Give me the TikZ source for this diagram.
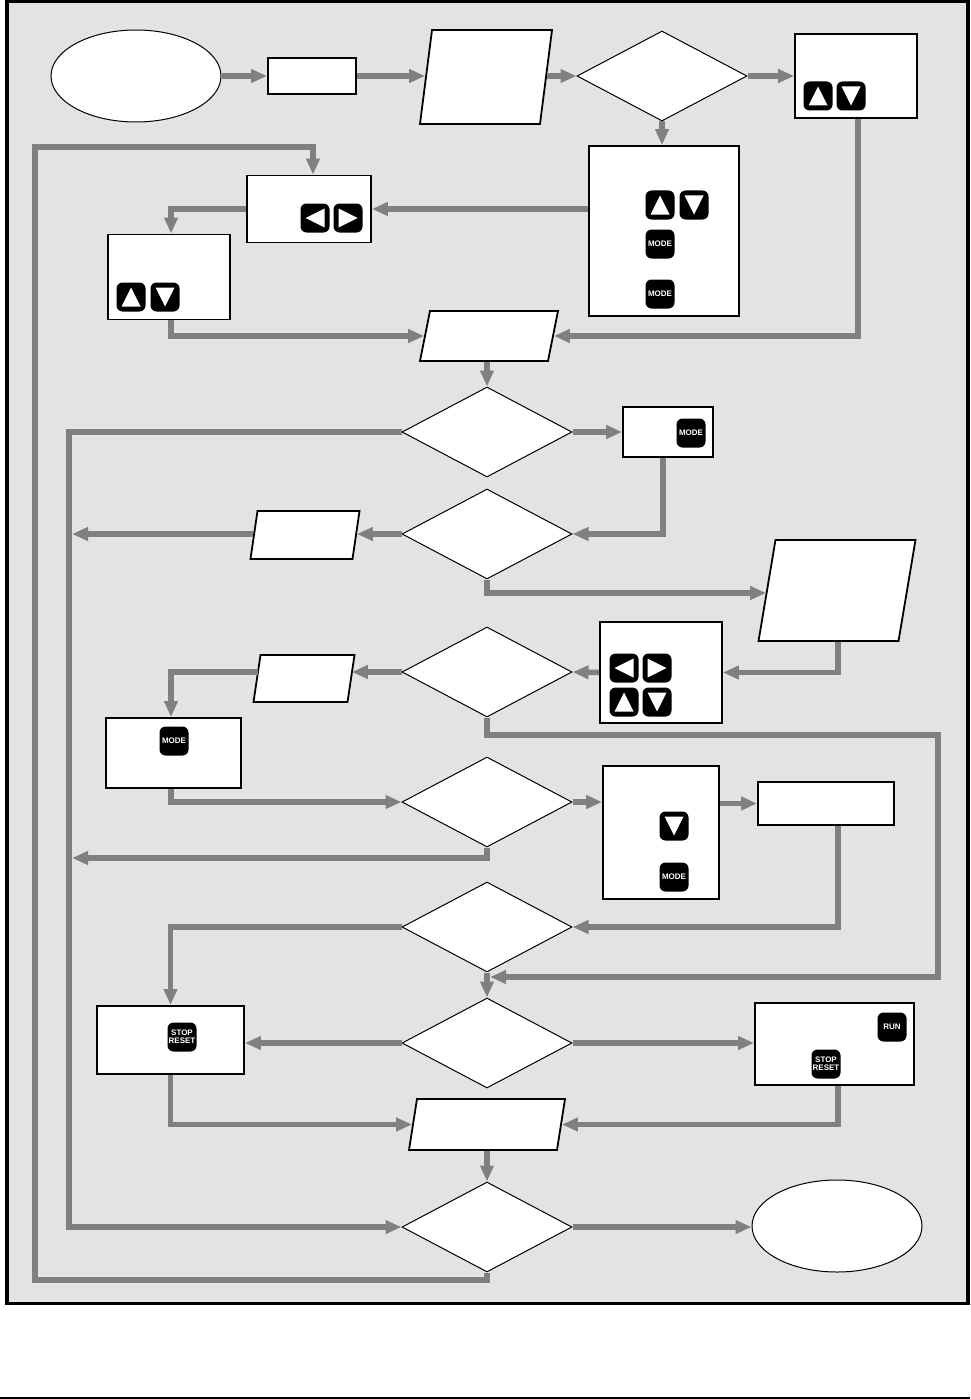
\documentclass[tikz,border=0pt]{standalone}
\usepackage{fontspec}
\setsansfont{Liberation Sans}
\usepackage{xcolor}
\usetikzlibrary{arrows.meta,shapes.geometric}
\definecolor{panel}{HTML}{E3E3E3}
\definecolor{flowgray}{HTML}{808080}
\tikzset{
  stepbox/.style={
    rectangle, draw=black, fill=white, line width=1.8pt,
    minimum width=#1, inner sep=0pt
  },
  termnode/.style={
    ellipse, draw=black, fill=white, line width=1pt,
    minimum width=170pt, minimum height=92pt, inner sep=0pt
  },
  querynode/.style={
    diamond, draw=black, fill=white, line width=1pt,
    minimum width=170pt, minimum height=90pt, inner sep=0pt
  },
  datanode/.style={
    rectangle, draw=black, fill=white, line width=1.8pt,
    xslant=#1, inner sep=0pt
  },
  flowline/.style={
    -{Triangle[length=16pt,width=13pt]}, line width=5.5pt,
    color=flowgray, miter limit=10
  },
  keybtn/.style={
    rectangle, rounded corners=6pt, fill=black, text=white,
    minimum size=29pt, inner sep=0pt, align=center,
    font=\sffamily\bfseries\fontsize{8}{8}\selectfont
  },
  keyup/.style={
    keybtn, path picture={
      \fill[white, sharp corners] (path picture bounding box.center)
        ++(0,-9.5) -- ++(9.5,19) -- ++(-19,0) -- cycle;}
  },
  keydown/.style={
    keybtn, path picture={
      \fill[white, sharp corners] (path picture bounding box.center)
        ++(0,9.5) -- ++(9.5,-19) -- ++(-19,0) -- cycle;}
  },
  keyleft/.style={
    keybtn, path picture={
      \fill[white, sharp corners] (path picture bounding box.center)
        ++(-9.5,0) -- ++(19,-9.5) -- ++(0,19) -- cycle;}
  },
  keyright/.style={
    keybtn, path picture={
      \fill[white, sharp corners] (path picture bounding box.center)
        ++(9.5,0) -- ++(-19,-9.5) -- ++(0,19) -- cycle;}
  },
}
\begin{document}
\begin{tikzpicture}[x=1pt,y=-1pt]
  \useasboundingbox (0,0) rectangle (970,1399);
  \draw[fill=panel, line width=3.6pt] (6.7,1.5) rectangle (968,1303.5);
  \fill[black] (0,1396.5) rectangle (970,1399);

  % flow blocks
  \node[termnode] (start) at (136,76) {};
  \node[stepbox=88pt, minimum height=36pt] (box1) at (312,76) {};
  \node[datanode=0.128, minimum width=120pt, minimum height=94pt] (data1) at (486,77) {};
  \node[querynode] (ask1) at (662,76) {};
  \node[stepbox=122pt, minimum height=84pt] (box2) at (856,76) {};
  \node[stepbox=150pt, minimum height=170pt] (box3) at (664,231) {};
  \node[stepbox=124pt, minimum height=67pt] (box4) at (309,209) {};
  \node[stepbox=122pt, minimum height=85pt] (box5) at (169,277) {};
  \node[datanode=0.2, minimum width=128pt, minimum height=50pt] (data2) at (489,336) {};
  \node[querynode] (ask2) at (487,432) {};
  \node[stepbox=90pt, minimum height=50pt] (box6) at (668,432) {};
  \node[querynode] (ask3) at (487,534) {};
  \node[datanode=0.146, minimum width=102pt, minimum height=48pt] (data3) at (305,535) {};
  \node[datanode=0.168, minimum width=140pt, minimum height=101pt] (data4) at (837,590.5) {};
  \node[stepbox=122pt, minimum height=101pt] (box7) at (661,672.5) {};
  \node[querynode] (ask4) at (487,672) {};
  \node[datanode=0.149, minimum width=94pt, minimum height=47pt] (data5) at (304,678.5) {};
  \node[stepbox=135pt, minimum height=70pt] (box8) at (173.5,753) {};
  \node[querynode] (ask5) at (487,802) {};
  \node[stepbox=116pt, minimum height=133pt] (box9) at (661,832.5) {};
  \node[stepbox=136pt, minimum height=43pt] (box10) at (826,803.5) {};
  \node[querynode] (ask6) at (487,927) {};
  \node[querynode] (ask7) at (487,1043) {};
  \node[stepbox=147pt, minimum height=68pt] (box11) at (170.5,1040) {};
  \node[stepbox=159pt, minimum height=82pt] (box12) at (834.5,1044) {};
  \node[datanode=0.157, minimum width=148pt, minimum height=51pt] (data6) at (487,1124.5) {};
  \node[querynode] (ask8) at (487,1227) {};
  \node[termnode] (stop) at (837,1226) {};

  % keys
  \node[keyup] (k2u) at (818,96) {};
  \node[keydown] (k2d) at (851,96) {};
  \node[keyup] (k3u) at (660,205) {};
  \node[keydown] (k3d) at (694,205) {};
  \node[keybtn] (k3m) at (660,244) {MODE};
  \node[keybtn] (k3n) at (660,294) {MODE};
  \node[keyleft] (k4l) at (315,218) {};
  \node[keyright] (k4r) at (348,218) {};
  \node[keyup] (k5u) at (131,297) {};
  \node[keydown] (k5d) at (165,297) {};
  \node[keybtn] (k6m) at (691,433) {MODE};
  \node[keyleft] (k7l) at (624,668) {};
  \node[keyright] (k7r) at (657,668) {};
  \node[keyup] (k7u) at (624,702) {};
  \node[keydown] (k7d) at (657,702) {};
  \node[keybtn] (k8m) at (174,741) {MODE};
  \node[keydown] (k9d) at (674,826) {};
  \node[keybtn] (k9m) at (674,877) {MODE};
  \node[keybtn] (k11s) at (182,1037) {STOP\\RESET};
  \node[keybtn] (k12r) at (892,1027) {RUN};
  \node[keybtn] (k12s) at (826,1064) {STOP\\RESET};

  % free ends on the return lines
  \coordinate (busa) at (69,1227);
  \coordinate (busb) at (72,534);
  \coordinate (busc) at (72,858);
  \coordinate (busd) at (35,1280);
  \coordinate (buse) at (35,147);
  \coordinate (busf) at (938,735);
  \coordinate (busg) at (490,977);

  % connectors
  \draw[flowline] (start) -- (box1);
  \draw[flowline] (box1.east) -- (box1.east -| data1.west);
  \draw[flowline] (data1.east |- ask1.west) -- (ask1.west);
  \draw[flowline] (ask1.east) -- (box2.west);
  \draw[flowline] (ask1.south) -- (ask1.south |- box3.north);
  \draw[flowline] (box3.west |- box4.east) -- (box4.east);
  \draw[flowline] (box4.west) -| ([xshift=2pt]box5.north);
  \draw[flowline] ([xshift=2pt]box5.south) |- (data2.west);
  \draw[flowline] ([xshift=2pt]box2.south) |- (data2.east);
  \draw[flowline] (data2.south -| ask2.north) -- (ask2.north);
  \draw[flowline] (ask2.east) -- (box6.west);
  \draw[flowline] (ask2.west) -| (busa) -- (ask8.west);
  \draw[flowline] ([xshift=-5pt]box6.south) |- (ask3.east);
  \draw[flowline] (ask3.west) -- (ask3.west -| data3.east);
  \draw[flowline] (data3.west |- ask3.west) -- (busb);
  \draw[flowline] (ask3.south) |- ([yshift=-2.5pt]data4.west);
  \draw[flowline] ([xshift=9.5pt]data4.south) |- (box7.east);
  \draw[flowline] (box7.west) -- (ask4.east);
  \draw[flowline] (ask4.west) -- (ask4.west -| data5.east);
  \draw[flowline] ([xshift=2pt,yshift=6.5pt]data5.west) -| ([xshift=-2.5pt]box8.north);
  \draw[flowline] ([xshift=-2.5pt]box8.south) |- (ask5.west);
  \draw[flowline] (ask5.east) -- (ask5.east -| box9.west);
  \draw[flowline] (box9.east |- box10.west) -- (box10.west);
  \draw[flowline] ([xshift=12pt]box10.south) |- (ask6.east);
  \draw[flowline] (ask5.south) |- (busc);
  \draw[flowline] (ask4.south) |- (busf) |- (busg);
  \draw[flowline] (ask6.west) -| (box11.north);
  \draw[flowline] (ask6.south) -- (ask7.north);
  \draw[flowline] (ask7.west) -- (box11.east |- ask7.west);
  \draw[flowline] (ask7.east) -- (ask7.east -| box12.west);
  \draw[flowline] (box11.south) |- (data6.west);
  \draw[flowline] ([xshift=3.5pt]box12.south) |- (data6.east);
  \draw[flowline] (data6.south -| ask8.north) -- (ask8.north);
  \draw[flowline] (ask8.east) -- (ask8.east -| stop.west);
  \draw[flowline] (ask8.south) |- (busd) |- (buse) -| ([xshift=4pt]box4.north);
\end{tikzpicture}
\end{document}
